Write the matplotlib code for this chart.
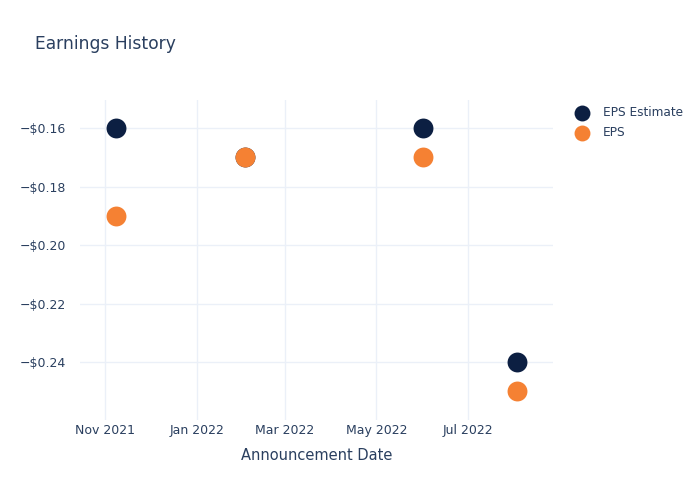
import numpy as np
import matplotlib
matplotlib.use('Agg')
import matplotlib.pyplot as plt
import matplotlib.dates as mdates
from matplotlib.ticker import FuncFormatter, FixedLocator
from datetime import datetime

# data
dates = ['2021-11-08', '2022-02-02', '2022-06-01', '2022-08-03']
eps_estimate = [-0.16, -0.17, -0.16, -0.24]
eps_actual = [-0.19, -0.17, -0.17, -0.25]
tick_dates = ['2021-11-01', '2022-01-01', '2022-03-01', '2022-05-01', '2022-07-01']
y_ticks = [-0.16, -0.18, -0.20, -0.22, -0.24]

text_col = '#2a3f5f'
grid_col = '#ebf0f8'
navy = '#0c1f42'
orange = '#f58133'

plt.rcParams['font.family'] = 'DejaVu Sans'

x = [datetime.strptime(d, '%Y-%m-%d') for d in dates]
xt = [datetime.strptime(d, '%Y-%m-%d') for d in tick_dates]

fig = plt.figure(figsize=(7, 5), dpi=100)
ax = fig.add_axes([80 / 700, 80 / 500, 473 / 700, 320 / 500])

ax.scatter(x, eps_estimate, s=205, color=navy, label='EPS Estimate', zorder=3, linewidths=0)
ax.scatter(x, eps_actual, s=205, color=orange, label='EPS', zorder=4, linewidths=0)

ax.set_xlim(datetime(2021, 10, 15), datetime(2022, 8, 27))
ax.set_ylim(-0.2598, -0.1504)

ax.xaxis.set_major_locator(FixedLocator(mdates.date2num(xt)))
ax.xaxis.set_major_formatter(mdates.DateFormatter('%b %Y'))
ax.yaxis.set_major_locator(FixedLocator(y_ticks))
ax.yaxis.set_major_formatter(FuncFormatter(
    lambda v, p: ('\u2212' if v < 0 else '') + '$%.2f' % abs(v)))

for s in ax.spines.values():
    s.set_visible(False)
ax.grid(True, color=grid_col, linewidth=1)
ax.set_axisbelow(True)
ax.tick_params(length=0, labelsize=9, colors=text_col)
ax.tick_params(axis='x', pad=3)
ax.tick_params(axis='y', pad=10)

ax.set_xlabel('Announcement Date', fontsize=10.5, color=text_col, labelpad=8)
fig.text(35 / 700, 1 - 44 / 500, 'Earnings History', fontsize=12.3, color=text_col, va='center')

fig.legend(loc='upper left', bbox_to_anchor=(570 / 700, 1 - 106 / 500), frameon=False,
           fontsize=8.7, labelcolor=text_col, handletextpad=0.75, labelspacing=0.6,
           markerscale=0.8, borderaxespad=0, borderpad=0)

fig.savefig('out.png', dpi=100)
